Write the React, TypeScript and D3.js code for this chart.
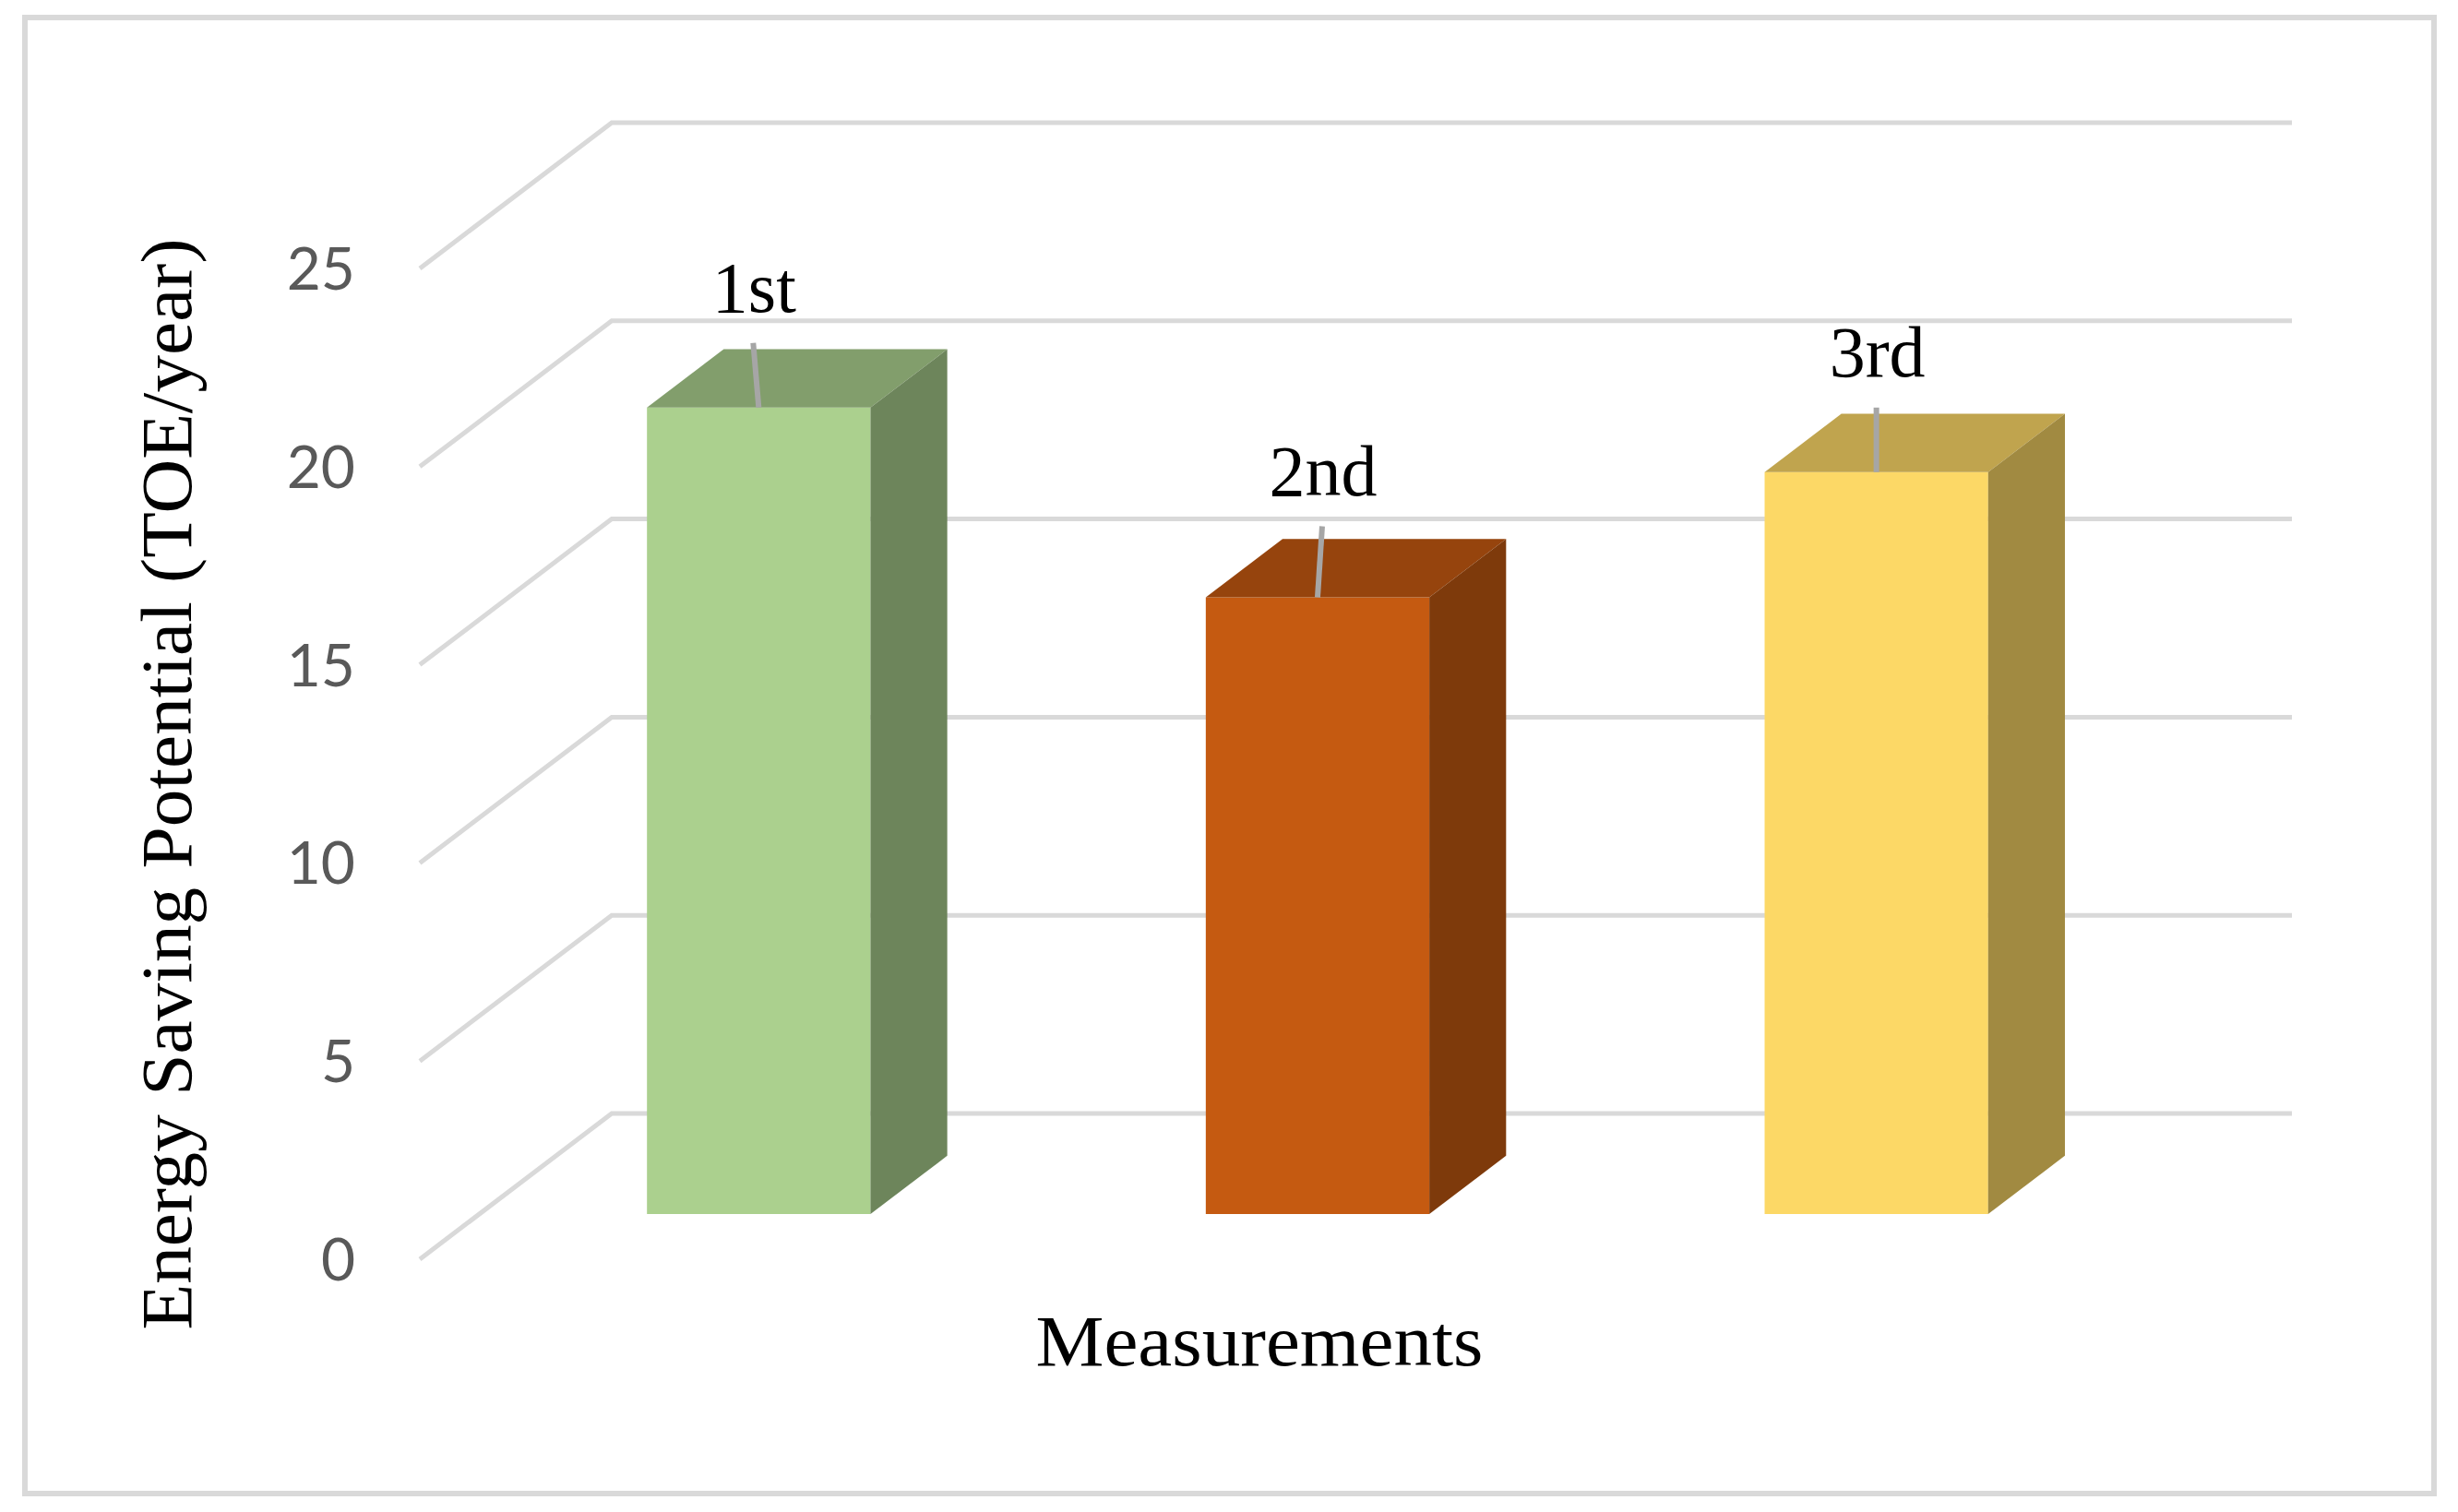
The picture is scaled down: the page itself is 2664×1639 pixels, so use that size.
import React from "react";
import * as d3 from "d3";

// ---- data ----
const categories: string[] = ["1st", "2nd", "3rd"];
const values: number[] = [20.35, 15.56, 18.72];
const frontColors: string[] = ["#abd08e", "#c55a11", "#fcd866"];
const yTicks: number[] = [0, 5, 10, 15, 20, 25];
const yTitle = "Energy Saving Potential (TOE/year)";
const xTitle = "Measurements";

// label leader tweaks (style)
const leaderDx: number[] = [-6, 5, 0];
const leaderLen: number[] = [70, 77, 70];

const W = 2664;
const H = 1639;

// 3D layout
const DEPTH_DX = -208;
const DEPTH_DY = 158;
const BAR_D_BACK = 0.29;
const BAR_D_FRONT = 0.69;
const WALL_X0 = 663;
const WALL_X1 = 2484;

const shade = (c: string, k: number) => {
  const r = d3.rgb(c);
  return d3.rgb(r.r * k, r.g * k, r.b * k).formatHex();
};

export default function App() {
  const y = d3.scaleLinear().domain([0, 25]).range([1207, 133]);
  const x = d3
    .scaleBand<string>()
    .domain(categories)
    .range([WALL_X0, 2480])
    .paddingInner(0.6)
    .paddingOuter(0.3);

  const proj = (px: number, v: number, d: number): [number, number] => [
    px + d * DEPTH_DX,
    y(v) + d * DEPTH_DY,
  ];
  const poly = (pts: [number, number][]) => pts.map((p) => p.join(",")).join(" ");

  const serif = "'Liberation Serif', 'Times New Roman', serif";

  return (
    <svg
      width={W}
      height={H}
      style={{ position: "absolute", left: 0, top: 0, background: "#fff" }}
    >
      <rect x={0} y={0} width={W} height={H} fill="#fff" />
      <rect x={27} y={19} width={2611} height={1600} fill="none" stroke="#d9d9d9" strokeWidth={6} />

      {/* gridlines */}
      {yTicks.map((t) => {
        const a = proj(WALL_X0, t, 1);
        const b = proj(WALL_X0, t, 0);
        const c = proj(WALL_X1, t, 0);
        return (
          <g key={t}>
            <polyline
              points={poly([a, b, c])}
              fill="none"
              stroke="#d9d9d9"
              strokeWidth={5}
            />
            <text
              x={a[0] - 70}
              y={a[1]}
              dy="0.36em"
              textAnchor="end"
              fontFamily="Lato, 'Open Sans', sans-serif"
              fontSize={64}
              fill="#595959"
            >
              {t}
            </text>
          </g>
        );
      })}

      {/* bars */}
      {categories.map((c, i) => {
        const x0 = x(c) as number;
        const x1 = x0 + x.bandwidth();
        const v = values[i];
        const f = BAR_D_FRONT;
        const bk = BAR_D_BACK;
        const front = [proj(x0, 0, f), proj(x1, 0, f), proj(x1, v, f), proj(x0, v, f)] as [number, number][];
        const top = [proj(x0, v, f), proj(x1, v, f), proj(x1, v, bk), proj(x0, v, bk)] as [number, number][];
        const side = [proj(x1, 0, f), proj(x1, 0, bk), proj(x1, v, bk), proj(x1, v, f)] as [number, number][];
        const col = frontColors[i];
        const mid = proj((x0 + x1) / 2, v, f);
        const lx = mid[0] + leaderDx[i];
        const ly = mid[1] - leaderLen[i];
        return (
          <g key={c}>
            <polygon points={poly(front)} fill={col} />
            <polygon points={poly(top)} fill={shade(col, 0.76)} />
            <polygon points={poly(side)} fill={shade(col, 0.64)} />
            <line x1={mid[0]} y1={mid[1]} x2={lx} y2={ly} stroke="#a6a6a6" strokeWidth={6} />
            <text
              x={lx + 1}
              y={ly - 34}
              textAnchor="middle"
              fontFamily={serif}
              fontSize={78}
              fill="#000"
            >
              {c}
            </text>
          </g>
        );
      })}

      {/* axis titles */}
      <text
        transform={`translate(207,850) rotate(-90)`}
        textAnchor="middle"
        fontFamily={serif}
        fontSize={79}
        textLength={1183}
        lengthAdjust="spacingAndGlyphs"
        fill="#000"
      >
        {yTitle}
      </text>
      <text
        x={1365}
        y={1480}
        textAnchor="middle"
        fontFamily={serif}
        fontSize={79}
        textLength={485}
        lengthAdjust="spacingAndGlyphs"
        fill="#000"
      >
        {xTitle}
      </text>
    </svg>
  );
}
